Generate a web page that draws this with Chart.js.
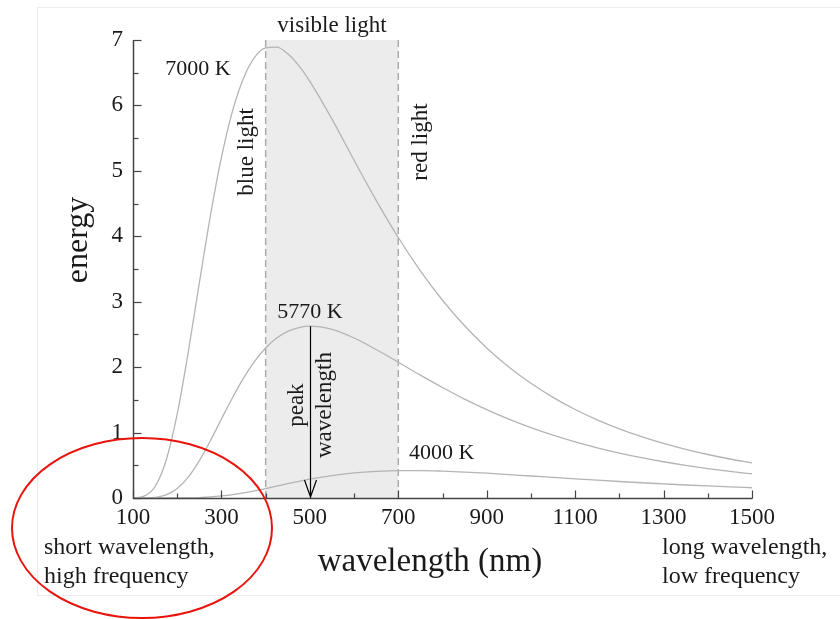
<!DOCTYPE html>
<html>
<head>
<meta charset="utf-8">
<title>Blackbody radiation</title>
<script src="https://cdn.jsdelivr.net/npm/chart.js@4.4.1/dist/chart.umd.min.js"></script>
<style>
  html, body { margin: 0; padding: 0; background: #fff; }
  #wrap { width: 840px; height: 619px; }
</style>
</head>
<body>
<div id="wrap"><canvas id="planckChart" width="840" height="619"></canvas></div>
<script>
// wavelength (nm)
const wavelengths = [100, 125, 150, 175, 200, 225, 250, 275, 300, 325, 350, 375, 400, 425, 450, 475, 500,
  550, 600, 650, 700, 750, 800, 850, 900, 950, 1000, 1050, 1100, 1150, 1200, 1250, 1300, 1350, 1400, 1450, 1500];

// energy
const energy7000 = [0.001, 0.028, 0.176, 0.577, 1.284, 2.233, 3.286, 4.312, 5.206, 5.914, 6.417, 6.734, 6.880, 6.891, 6.789, 6.607, 6.368,
  5.790, 5.162, 4.549, 3.981, 3.471, 3.022, 2.632, 2.294, 2.003, 1.753, 1.538, 1.353, 1.194, 1.056, 0.937, 0.833, 0.743, 0.665, 0.596, 0.536];
const energy5770 = [0.000, 0.001, 0.009, 0.047, 0.144, 0.318, 0.570, 0.875, 1.207, 1.533, 1.832, 2.087, 2.292, 2.444, 2.547, 2.605, 2.626,
  2.576, 2.445, 2.269, 2.075, 1.878, 1.689, 1.512, 1.351, 1.205, 1.075, 0.960, 0.857, 0.767, 0.687, 0.616, 0.554, 0.499, 0.450, 0.407, 0.368];
const energy4000 = [0.000, 0.000, 0.000, 0.000, 0.001, 0.002, 0.007, 0.016, 0.031, 0.051, 0.078, 0.110, 0.145, 0.182, 0.219, 0.254, 0.287,
  0.343, 0.384, 0.408, 0.419, 0.419, 0.411, 0.397, 0.379, 0.358, 0.336, 0.315, 0.293, 0.272, 0.252, 0.233, 0.216, 0.199, 0.184, 0.170, 0.157];

const temperatures = ["7000 K", "5770 K", "4000 K"];
const visibleRange = [400, 700];
const peakWavelength = 500;
const peakEnergy = 2.626;

const xTicks = { min: 100, max: 1500, step: 200, minor: 100 };
const yTicks = { min: 0, max: 7, step: 1, minor: 0.5 };

const SERIF = "'Liberation Serif', 'DejaVu Serif', serif";
const INK = "#1a1a1a";

function toPoints(ys) {
  return wavelengths.map((x, i) => ({ x, y: ys[i] }));
}

function curve(label, ys) {
  return {
    label,
    data: toPoints(ys),
    borderColor: "#b4b4b4",
    borderWidth: 1.3,
    pointRadius: 0,
    fill: false,
    cubicInterpolationMode: "monotone"
  };
}

function text(ctx, str, x, y, size, align, angle) {
  ctx.save();
  ctx.font = size + "px " + SERIF;
  ctx.fillStyle = INK;
  ctx.textAlign = align || "center";
  ctx.textBaseline = "middle";
  ctx.translate(x, y);
  if (angle) ctx.rotate(angle);
  ctx.fillText(str, 0, 0);
  ctx.restore();
}

// grey band + dashed borders of the visible range
const visibleBand = {
  id: "visibleBand",
  beforeDatasetsDraw(chart) {
    const { ctx, scales: { x, y } } = chart;
    const x1 = x.getPixelForValue(visibleRange[0]);
    const x2 = x.getPixelForValue(visibleRange[1]);
    const top = y.getPixelForValue(yTicks.max);
    const bottom = y.getPixelForValue(0);
    ctx.save();
    ctx.fillStyle = "#ececec";
    ctx.fillRect(x1, top, x2 - x1, bottom - top);
    ctx.strokeStyle = "#a8a8a8";
    ctx.lineWidth = 1.4;
    ctx.setLineDash([7, 4]);
    [x1, x2].forEach(px => {
      ctx.beginPath();
      ctx.moveTo(px, top);
      ctx.lineTo(px, bottom);
      ctx.stroke();
    });
    ctx.restore();
  }
};

// axes with inward ticks, labels, arrow, red ellipse
const annotations = {
  id: "annotations",
  beforeDraw(chart) {
    const ctx = chart.ctx;
    ctx.save();
    ctx.fillStyle = "#fff";
    ctx.fillRect(0, 0, chart.width, chart.height);
    ctx.strokeStyle = "#ededed";
    ctx.lineWidth = 1;
    ctx.strokeRect(37.5, 7.5, 810, 588);
    ctx.restore();
  },
  afterDraw(chart) {
    const { ctx, scales: { x, y } } = chart;
    const px = v => x.getPixelForValue(v);
    const py = v => y.getPixelForValue(v);
    const x0 = Math.round(px(xTicks.min)) + 0.5;
    const y0 = Math.round(py(yTicks.min)) + 0.5;

    ctx.save();
    ctx.strokeStyle = "#444";
    ctx.lineWidth = 1.5;
    ctx.beginPath();
    ctx.moveTo(x0, Math.round(py(yTicks.max)));
    ctx.lineTo(x0, y0);
    ctx.lineTo(Math.round(px(xTicks.max)) + 0.5, y0);
    ctx.stroke();

    ctx.lineWidth = 1.2;
    for (let v = xTicks.min; v <= xTicks.max; v += xTicks.minor) {
      const len = (v - xTicks.min) % xTicks.step === 0 ? 8 : 5;
      ctx.beginPath();
      ctx.moveTo(Math.round(px(v)) + 0.5, y0);
      ctx.lineTo(Math.round(px(v)) + 0.5, y0 - len);
      ctx.stroke();
    }
    for (let v = yTicks.min; v <= yTicks.max; v += yTicks.minor) {
      const len = v % yTicks.step === 0 ? 8 : 5;
      ctx.beginPath();
      ctx.moveTo(x0, Math.round(py(v)) + 0.5);
      ctx.lineTo(x0 + len, Math.round(py(v)) + 0.5);
      ctx.stroke();
    }

    // peak wavelength arrow
    const ax = Math.round(px(peakWavelength)) + 0.5;
    const ay = py(0) - 1;
    ctx.strokeStyle = "#000";
    ctx.lineWidth = 1.2;
    ctx.beginPath();
    ctx.moveTo(ax, py(peakEnergy));
    ctx.lineTo(ax, ay);
    ctx.moveTo(ax - 6, ay - 17);
    ctx.lineTo(ax, ay);
    ctx.lineTo(ax + 6, ay - 17);
    ctx.stroke();

    // red ellipse round the short wavelength corner
    ctx.strokeStyle = "#e8140c";
    ctx.lineWidth = 2;
    ctx.beginPath();
    ctx.ellipse(px(xTicks.min) + 9, py(0) + 30, 130, 90, 0, 0, Math.PI * 2);
    ctx.stroke();
    ctx.restore();

    text(ctx, "visible light", px(550), py(7.22), 23);
    text(ctx, temperatures[0], px(247), py(6.55), 22);
    text(ctx, temperatures[1], px(500), py(2.84), 22);
    text(ctx, temperatures[2], px(798), py(0.69), 22);
    text(ctx, "blue light", px(358), py(5.29), 23, "center", -Math.PI / 2);
    text(ctx, "red light", px(751), py(5.44), 23, "center", -Math.PI / 2);
    text(ctx, "peak", px(peakWavelength) - 13, py(1.42), 23, "center", -Math.PI / 2);
    text(ctx, "wavelength", px(peakWavelength) + 15, py(1.42), 23, "center", -Math.PI / 2);

    text(ctx, "energy", 79, 240, 32, "center", -Math.PI / 2);
    text(ctx, "wavelength (nm)", 430, 562, 33);
    text(ctx, "short wavelength,", 44, 548, 24, "left");
    text(ctx, "high frequency", 44, 577, 24, "left");
    text(ctx, "long wavelength,", 662, 548, 24, "left");
    text(ctx, "low frequency", 662, 577, 24, "left");
  }
};

new Chart(document.getElementById("planckChart"), {
  type: "line",
  data: {
    datasets: [
      curve(temperatures[0], energy7000),
      curve(temperatures[1], energy5770),
      curve(temperatures[2], energy4000)
    ]
  },
  options: {
    responsive: false,
    animation: false,
    layout: { padding: { left: 0, right: 88, top: 40, bottom: 0 } },
    plugins: { legend: { display: false }, tooltip: { enabled: false } },
    scales: {
      x: {
        type: "linear",
        min: xTicks.min,
        max: xTicks.max,
        afterFit: s => { s.height = 121; },
        grid: { display: false, drawTicks: false },
        border: { display: false },
        ticks: {
          stepSize: xTicks.step,
          padding: 6,
          color: INK,
          font: { family: SERIF, size: 23 },
          maxRotation: 0,
          callback: v => String(v)
        }
      },
      y: {
        min: yTicks.min,
        max: yTicks.max,
        afterFit: s => { s.width = 133; },
        grid: { display: false, drawTicks: false },
        border: { display: false },
        ticks: {
          stepSize: yTicks.step,
          padding: 10,
          color: INK,
          font: { family: SERIF, size: 23 },
          callback: v => String(v)
        }
      }
    }
  },
  plugins: [visibleBand, annotations]
});
</script>
</body>
</html>
